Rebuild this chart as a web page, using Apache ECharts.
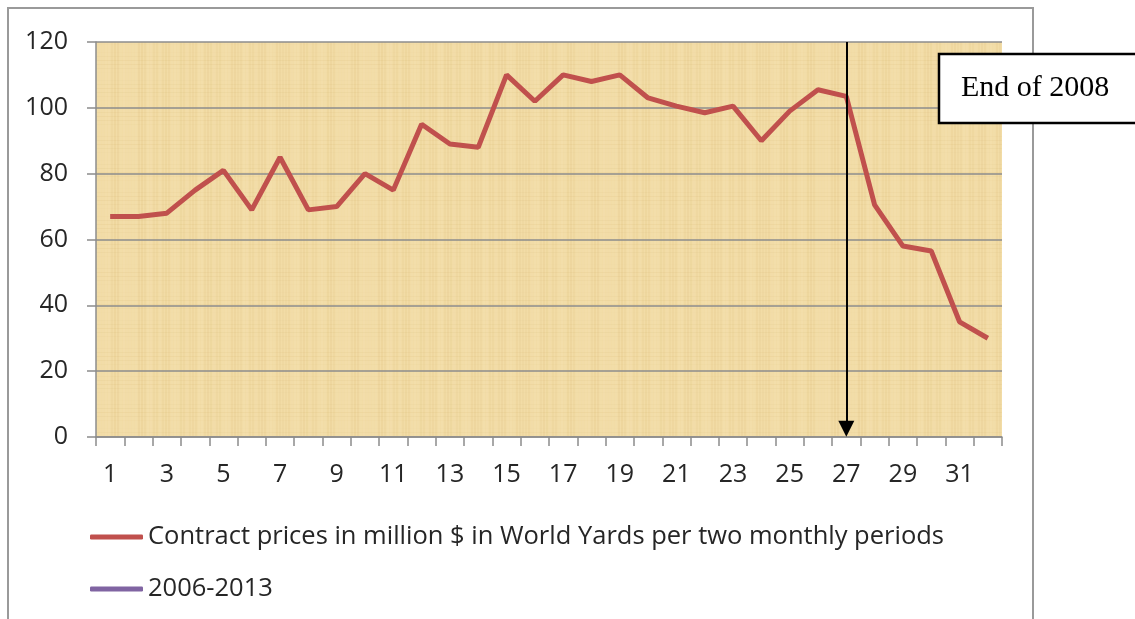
<!DOCTYPE html>
<html>
<head>
<meta charset="utf-8">
<script src="https://cdn.jsdelivr.net/npm/echarts@6/dist/echarts.min.js"></script>
<style>
html, body { margin: 0; padding: 0; background: #fff; }
#mainchart { width: 1135px; height: 619px; }
</style>
</head>
<body>
<div id="mainchart"></div>
<script>
var periods = [];
for (var i = 1; i <= 32; i++) { periods.push(String(i)); }
var contractPrices = [67, 67, 68, 75, 81, 69, 85, 69, 70, 80, 75, 95, 89, 88, 110, 102,
	110, 108, 110, 103, 100.5, 98.5, 100.5, 90, 99, 105.5, 103.5, 70.5, 58, 56.5, 35, 30];
var seriesNames = ['Contract prices in million $ in World Yards per two monthly periods', '2006-2013'];
var markPeriod = '27';
var noteText = 'End of 2008';

// papyrus-like background texture
function makePaper() {
	var c = document.createElement('canvas');
	c.width = 240; c.height = 240;
	var g = c.getContext('2d');
	g.fillStyle = '#F2DCA6';
	g.fillRect(0, 0, 240, 240);
	for (var x = 0; x < 240; x += 3) {
		var a = 0.05 + 0.05 * Math.sin(x * 0.37) * Math.cos(x * 0.11);
		g.fillStyle = a > 0.05 ? 'rgba(255,245,215,' + a + ')' : 'rgba(200,160,80,' + (0.1 - a) + ')';
		g.fillRect(x, 0, 2, 240);
	}
	for (var y = 0; y < 240; y += 4) {
		var b = 0.04 + 0.04 * Math.sin(y * 0.23);
		g.fillStyle = 'rgba(190,150,70,' + b + ')';
		g.fillRect(0, y, 240, 1);
	}
	return c;
}

var labelFont = 'Open Sans';
var chart = echarts.init(document.getElementById('mainchart'));
var option = {
	animation: false,
	backgroundColor: '#fff',
	textStyle: { fontFamily: labelFont },
	grid: {
		left: 96, right: 133, top: 42, bottom: 182,
		show: true, borderWidth: 0,
		backgroundColor: { image: makePaper(), repeat: 'repeat' }
	},
	legend: [{
		orient: 'vertical', left: 90, top: 524, padding: 0,
		icon: 'roundRect', itemWidth: 53, itemHeight: 5,
		data: [seriesNames[0]],
		textStyle: { fontSize: 25.5, color: '#262626', fontFamily: labelFont }
	}, {
		orient: 'vertical', left: 90, top: 576, padding: 0,
		icon: 'roundRect', itemWidth: 53, itemHeight: 5,
		data: [seriesNames[1]],
		textStyle: { fontSize: 25.5, color: '#262626', fontFamily: labelFont }
	}],
	xAxis: {
		type: 'category',
		data: periods,
		boundaryGap: true,
		axisLine: { lineStyle: { color: '#8c8c8c', width: 1.5 } },
		axisTick: { show: true, interval: 0, length: 9, lineStyle: { color: '#8c8c8c', width: 1.5 } },
		axisLabel: { interval: 1, fontSize: 25, color: '#262626', margin: 25 },
		splitLine: { show: false }
	},
	yAxis: {
		type: 'value',
		min: 0, max: 120, interval: 20,
		axisLine: { show: true, lineStyle: { color: '#8c8c8c', width: 1.5 } },
		axisTick: { show: true, length: 9, lineStyle: { color: '#8c8c8c', width: 1.5 } },
		axisLabel: { fontSize: 25, color: '#262626', margin: 28 },
		splitLine: { show: true, lineStyle: { color: '#8c8c8c', width: 1.5 } }
	},
	series: [{
		name: seriesNames[0],
		type: 'line',
		data: contractPrices,
		symbol: 'none',
		color: '#C0504D',
		lineStyle: { width: 5, color: '#C0504D' },
		markLine: {
			silent: true,
			symbol: ['none', 'triangle'],
			symbolSize: [16, 16],
			lineStyle: { color: '#000', width: 2, type: 'solid' },
			label: { show: false },
			data: [[{ coord: [markPeriod, 120] }, { coord: [markPeriod, 2.5] }]]
		}
	}, {
		name: seriesNames[1],
		type: 'line',
		data: [],
		color: '#8064A2',
		lineStyle: { width: 5, color: '#8064A2' }
	}],
	graphic: [{
		type: 'rect', z: -10,
		shape: { x: 8, y: 8, width: 1025, height: 700 },
		style: { fill: 'none', stroke: '#9a9a9a', lineWidth: 2 }
	}, {
		type: 'rect', z: 10,
		shape: { x: 939, y: 54, width: 220, height: 69 },
		style: { fill: '#fff', stroke: '#000', lineWidth: 2.5 }
	}, {
		type: 'text', z: 11, left: 961, top: 73,
		style: { text: noteText, fill: '#000', font: '30px "Liberation Serif"' }
	}]
};
chart.setOption(option);
</script>
</body>
</html>
